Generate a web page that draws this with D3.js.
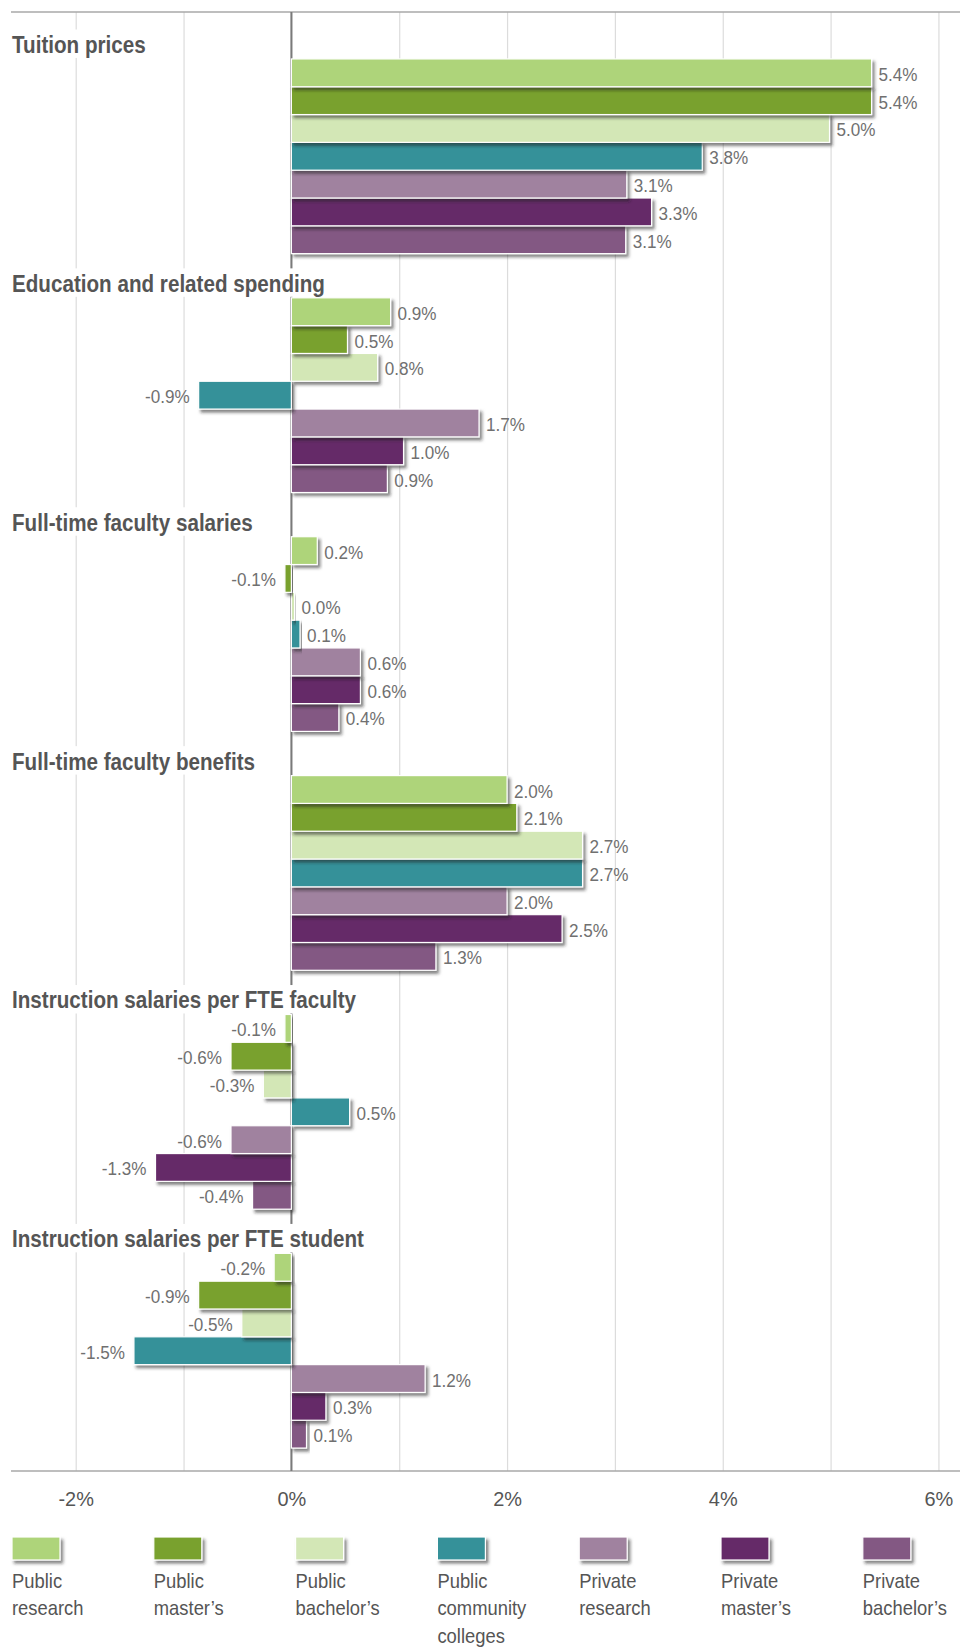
<!DOCTYPE html>
<html>
<head>
<meta charset="utf-8">
<script src="https://cdn.jsdelivr.net/npm/d3@7"></script>
<style>
  body { margin: 0; background: #fff; }
  svg { display: block; }
  svg text { font-family: "Liberation Sans", Arial, sans-serif; }
  .title { font-weight: bold; fill: #555; }
</style>
</head>
<body>
<div id="chart"></div>
<script>
var categories = [
  'Tuition prices',
  'Education and related spending',
  'Full-time faculty salaries',
  'Full-time faculty benefits',
  'Instruction salaries per FTE faculty',
  'Instruction salaries per FTE student'
];

var series = [
  'Public research',
  'Public master’s',
  'Public bachelor’s',
  'Public community colleges',
  'Private research',
  'Private master’s',
  'Private bachelor’s'
];

var colors = ['#aed47a', '#79a12e', '#d3e7b6', '#359199', '#a0829f', '#652b68', '#835883'];

// one array per category, in series order (annual % change)
var tuition = [5.38, 5.38, 4.99, 3.81, 3.11, 3.34, 3.10];
var education = [0.92, 0.52, 0.80, -0.86, 1.74, 1.04, 0.89];
var salaries = [0.24, -0.06, 0.03, 0.08, 0.64, 0.64, 0.44];
var benefits = [2.00, 2.09, 2.70, 2.70, 2.00, 2.51, 1.34];
var perFaculty = [-0.06, -0.56, -0.26, 0.54, -0.56, -1.26, -0.36];
var perStudent = [-0.16, -0.86, -0.46, -1.46, 1.24, 0.32, 0.14];

var tickValues = [-2, 0, 2, 4, 6];
var gridValues = [-2, -1, 0, 1, 2, 3, 4, 5, 6];

var values = [tuition, education, salaries, benefits, perFaculty, perStudent];

var width = 960, height = 1648;
var plotTop = 12, axisY = 1471;

var svg = d3.select('#chart').append('svg')
  .attr('width', width)
  .attr('height', height);

var defs = svg.append('defs');
defs.append('filter')
  .attr('id', 'shadow')
  .attr('x', '-10%').attr('y', '-30%')
  .attr('width', '130%').attr('height', '180%')
  .append('feDropShadow')
  .attr('dx', 2.5).attr('dy', 3)
  .attr('stdDeviation', 1.4)
  .attr('flood-color', '#222')
  .attr('flood-opacity', 0.55);

var x = d3.scaleLinear().domain([-2.6, 6.2]).range([11, 960]);

var y0 = d3.scaleBand()
  .domain(categories)
  .range([36, axisY])
  .paddingInner(0.185)
  .paddingOuter(0.096);

var y1 = d3.scaleBand()
  .domain(series)
  .range([0, y0.bandwidth()]);

// gridlines
svg.append('g')
  .attr('transform', 'translate(0,' + axisY + ')')
  .call(d3.axisBottom(x).tickValues(gridValues).tickSize(-(axisY - plotTop)).tickFormat(''))
  .call(function (g) {
    g.select('.domain').remove();
    g.selectAll('.tick line').attr('stroke', '#dcdcdc').attr('stroke-width', 1.2);
  });

// frame lines
svg.append('line')
  .attr('x1', 11).attr('x2', width)
  .attr('y1', plotTop).attr('y2', plotTop)
  .attr('stroke', '#a8a8a8').attr('stroke-width', 1.5);
svg.append('line')
  .attr('x1', 11).attr('x2', width)
  .attr('y1', axisY).attr('y2', axisY)
  .attr('stroke', '#a8a8a8').attr('stroke-width', 1.5);

// zero line
svg.append('line')
  .attr('x1', x(0)).attr('x2', x(0))
  .attr('y1', plotTop).attr('y2', axisY)
  .attr('stroke', '#7a7a7a').attr('stroke-width', 2);

// titles, with white backing that hides the grid
var titles = svg.append('g');
categories.forEach(function (cat) {
  var ty = y0(cat) - 6;
  var g = titles.append('g')
    .attr('transform', 'translate(12,' + ty + ') scale(0.86,1)');
  var t = g.append('text')
    .attr('class', 'title')
    .attr('font-size', 24)
    .text(cat);
  var bb = t.node().getBBox();
  g.insert('rect', 'text')
    .attr('x', bb.x - 3)
    .attr('y', bb.y - 2)
    .attr('width', bb.width + 6)
    .attr('height', (y0(cat) - 1 - ty) - (bb.y - 2))
    .attr('fill', '#fff');
});

// bars
var groups = svg.append('g').selectAll('g')
  .data(categories)
  .join('g')
  .attr('transform', function (d) { return 'translate(0,' + y0(d) + ')'; });

groups.each(function (cat, ci) {
  var g = d3.select(this);
  var rows = series.map(function (s, si) {
    return { name: s, value: values[ci][si], color: colors[si] };
  });

  // draw bottom bar first so each shadow lands on the bar below
  g.selectAll('rect')
    .data(rows.slice().reverse())
    .join('rect')
    .attr('x', function (d) { return x(Math.min(0, d.value)); })
    .attr('y', function (d) { return y1(d.name); })
    .attr('width', function (d) { return Math.max(2, Math.abs(x(d.value) - x(0))); })
    .attr('height', y1.bandwidth())
    .attr('fill', function (d) { return d.color; })
    .attr('stroke', '#fff')
    .attr('stroke-width', 1.2)
    .attr('filter', 'url(#shadow)');

  g.selectAll('text.lbl')
    .data(rows)
    .join('text')
    .attr('class', 'lbl')
    .attr('transform', function (d) {
      var lx = d.value < 0 ? x(d.value) - 9 : x(Math.max(d.value, 0.03)) + 7;
      var ly = y1(d.name) + y1.bandwidth() / 2 + 8;
      return 'translate(' + lx + ',' + ly + ') scale(0.9,1)';
    })
    .attr('text-anchor', function (d) { return d.value < 0 ? 'end' : 'start'; })
    .attr('font-size', 19)
    .attr('fill', '#707070')
    .text(function (d) { return d.value.toFixed(1) + '%'; });
});

// x tick labels
svg.append('g')
  .attr('transform', 'translate(0,' + axisY + ')')
  .call(d3.axisBottom(x).tickValues(tickValues).tickSize(0).tickPadding(20)
    .tickFormat(function (d) { return d + '%'; }))
  .call(function (g) {
    g.select('.domain').remove();
    g.selectAll('.tick text')
      .attr('font-size', 21)
      .attr('fill', '#555')
      .attr('transform', 'scale(0.95,1)');
  });

// legend
var legend = svg.append('g').attr('class', 'legend')
  .selectAll('g')
  .data(series)
  .join('g')
  .attr('transform', function (d, i) { return 'translate(' + (12 + i * 141.8) + ',1537)'; });

legend.append('rect')
  .attr('width', 48)
  .attr('height', 23)
  .attr('fill', function (d, i) { return colors[i]; })
  .attr('stroke', '#fff')
  .attr('stroke-width', 1.2)
  .attr('filter', 'url(#shadow)');

legend.append('text')
  .attr('font-size', 20)
  .attr('fill', '#555')
  .attr('transform', 'scale(0.92,1)')
  .selectAll('tspan')
  .data(function (d) { return d.split(' '); })
  .join('tspan')
  .attr('x', 0)
  .attr('y', function (d, i) { return 51 + i * 27.5; })
  .text(function (d) { return d; });
</script>
</body>
</html>
